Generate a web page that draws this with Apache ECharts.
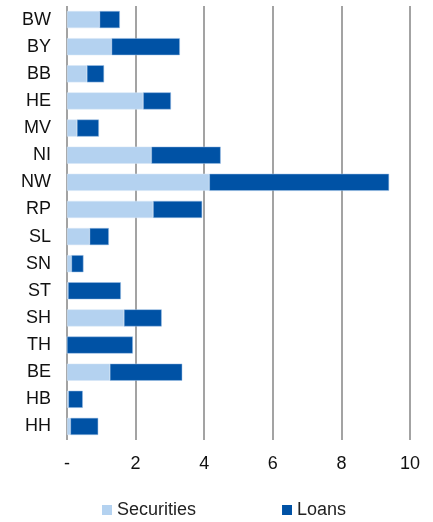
<!DOCTYPE html>
<html><head><meta charset="utf-8">
<script src="https://cdn.jsdelivr.net/npm/echarts@6/dist/echarts.min.js"></script>
<style>html,body{margin:0;padding:0;background:#fff}#c{width:433px;height:522px}</style>
</head><body><div id="c"></div>
<script>
const categories = ['BW','BY','BB','HE','MV','NI','NW','RP','SL','SN','ST','SH','TH','BE','HB','HH'];
const securities = [0.95,1.30,0.58,2.22,0.29,2.46,4.15,2.51,0.66,0.13,0.03,1.66,0.00,1.25,0.04,0.10];
const loans      = [0.59,1.99,0.50,0.81,0.64,2.02,5.24,1.43,0.56,0.35,1.54,1.10,1.92,2.11,0.42,0.81];
const xTicks = {min:0, max:10, interval:2};

const chart = echarts.init(document.getElementById('c'), null, {renderer:'canvas'});
const font = 'Liberation Sans, Arial, sans-serif';
chart.setOption({
  animation:false,
  backgroundColor:'#fff',
  grid:{left:67,right:23,top:6,bottom:82,containLabel:false},
  legend:{
    data:['Securities','Loans'],
    left:102, top:501, padding:0,
    itemWidth:10, itemHeight:10, itemGap:86, itemTextGap:5,
    icon:'rect',
    itemStyle:{borderWidth:0},
    textStyle:{fontFamily:font,fontSize:18,color:'#222'}
  },
  xAxis:{
    type:'value', min:xTicks.min, max:xTicks.max, interval:xTicks.interval,
    axisLine:{show:false}, axisTick:{show:false},
    splitLine:{show:true,lineStyle:{color:'#858585',width:1.5}},
    axisLabel:{fontFamily:font,fontSize:18,color:'#111',margin:15,
      formatter:v=> v===0?'-':String(v)}
  },
  yAxis:{
    type:'category', data:categories, inverse:true,
    axisLine:{show:false}, axisTick:{show:false},
    axisLabel:{fontFamily:font,fontSize:18,color:'#111',margin:16}
  },
  series:[
    {name:'Securities',type:'bar',stack:'a',data:securities,barCategoryGap:'37%',
     itemStyle:{color:'#b4d2f0',borderColor:'#d6e6f7',borderWidth:0.5}},
    {name:'Loans',type:'bar',stack:'a',data:loans,
     itemStyle:{color:'#0052a5',borderColor:'#9fc0e6',borderWidth:0.5}}
  ]
});
</script></body></html>
